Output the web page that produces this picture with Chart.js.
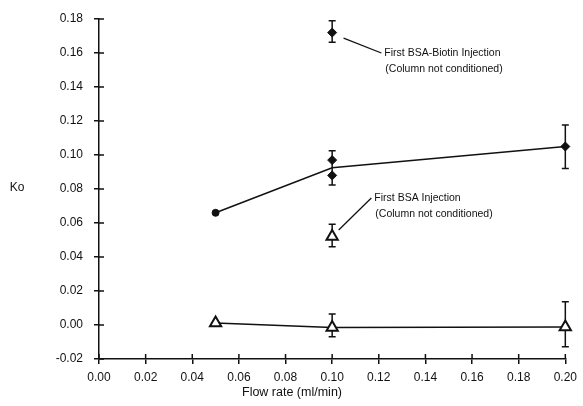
<!DOCTYPE html>
<html>
<head>
<meta charset="utf-8">
<script src="https://cdn.jsdelivr.net/npm/chart.js@4"></script>
<style>
  html, body { margin: 0; padding: 0; background: #fff; }
  #wrap { width: 583px; height: 406px; }
</style>
</head>
<body>
<div id="wrap"><canvas id="koChart"></canvas></div>
<script>
// flow rates (ml/min) used on the x axis
const flowRates = [0.05, 0.10, 0.20];

// BSA-Biotin (filled diamonds), line goes through mean at 0.10
const biotinKo = [0.066, 0.0925, 0.105];
const biotinRepX = [0.10, 0.10];
const biotinRepKo = [0.097, 0.088];
const biotinFirstX = [0.10];
const biotinFirstKo = [0.172];

// BSA (open triangles)
const bsaKo = [0.0012, -0.0014, -0.0012];
const bsaFirstX = [0.10];
const bsaFirstKo = [0.052];

// error bars (low / high)
const errX  = [0.10,   0.20,   0.10,   0.10,    0.20,    0.10];
const errLo = [0.0824, 0.092,  0.1663, -0.0069, -0.0128, 0.046];
const errHi = [0.1025, 0.1176, 0.179,  0.0065,  0.0137,  0.0592];

// tick range
const xMin = 0, xMax = 0.20, xStep = 0.02;
const yMin = -0.02, yMax = 0.18, yStep = 0.02;

const FONT = "'Liberation Sans', Arial, sans-serif";
const INK = '#111';

// annotation leader lines, in data units: [fromX, fromY, toX, toY]
const notes = [
    { line: [0.1049, 0.1688, 0.1211, 0.1600], text: ['First BSA-Biotin Injection', '(Column not conditioned)'] },
    { line: [0.1028, 0.0559, 0.1168, 0.0747], text: ['First BSA Injection', '(Column not conditioned)'] }
];

const pts = (xs, ys) => xs.map((x, i) => ({ x: x, y: ys[i] }));
const fmt = v => (Math.abs(v) < 1e-9 ? 0 : v).toFixed(2);

// error bars drawn under the markers
const errorBars = {
    id: 'errorBars',
    beforeDatasetsDraw(chart) {
        const { ctx, scales: { x, y } } = chart;
        ctx.save();
        ctx.strokeStyle = INK;
        ctx.lineWidth = 1.5;
        errX.forEach((v, i) => {
            const px = x.getPixelForValue(v);
            const lo = y.getPixelForValue(errLo[i]);
            const hi = y.getPixelForValue(errHi[i]);
            ctx.beginPath();
            ctx.moveTo(px, lo); ctx.lineTo(px, hi);
            ctx.moveTo(px - 3.5, hi); ctx.lineTo(px + 3.5, hi);
            ctx.moveTo(px - 3.5, lo); ctx.lineTo(px + 3.5, lo);
            ctx.stroke();
        });
        ctx.restore();
    }
};

// inner half of the ticks, axis titles and annotations
const decorations = {
    id: 'decorations',
    afterDraw(chart) {
        const { ctx, chartArea: a, scales: { x, y } } = chart;
        ctx.save();
        ctx.strokeStyle = INK;
        ctx.lineWidth = 1.5;
        ctx.beginPath();
        x.ticks.forEach(t => {
            const px = x.getPixelForValue(t.value);
            ctx.moveTo(px, a.bottom); ctx.lineTo(px, a.bottom - 5);
        });
        y.ticks.forEach(t => {
            const py = y.getPixelForValue(t.value);
            ctx.moveTo(a.left, py); ctx.lineTo(a.left + 5, py);
        });
        ctx.stroke();

        ctx.fillStyle = INK;
        ctx.textBaseline = 'middle';
        ctx.textAlign = 'center';
        ctx.font = '12px ' + FONT;
        ctx.fillText('Ko', 17, 188);
        ctx.font = '12.5px ' + FONT;
        ctx.fillText('Flow rate (ml/min)', 292, 393);

        ctx.textAlign = 'left';
        ctx.font = '10.5px ' + FONT;
        ctx.lineWidth = 1.3;
        notes.forEach(n => {
            const [x0, y0, x1, y1] = n.line;
            const ax = x.getPixelForValue(x0), ay = y.getPixelForValue(y0);
            const bx = x.getPixelForValue(x1), by = y.getPixelForValue(y1);
            ctx.beginPath();
            ctx.moveTo(ax, ay); ctx.lineTo(bx, by);
            ctx.stroke();
            ctx.fillText(n.text[0], bx + 3, by);
            ctx.fillText(n.text[1], bx + 4, by + 16);
        });
        ctx.restore();
    }
};

new Chart(document.getElementById('koChart'), {
    type: 'scatter',
    data: {
        datasets: [
            {
                data: pts(flowRates, biotinKo),
                showLine: true,
                clip: false,
                borderColor: INK,
                borderWidth: 1.5,
                backgroundColor: INK,
                pointStyle: ['circle', 'rectRot', 'rectRot'],
                pointRadius: [3.5, 0, 4.5],
                pointBorderWidth: 1
            },
            {
                data: pts(biotinRepX, biotinRepKo),
                clip: false,
                borderColor: INK,
                backgroundColor: INK,
                pointStyle: 'rectRot',
                pointRadius: 4.5,
                pointBorderWidth: 1
            },
            {
                data: pts(biotinFirstX, biotinFirstKo),
                clip: false,
                borderColor: INK,
                backgroundColor: INK,
                pointStyle: 'rectRot',
                pointRadius: 4.5,
                pointBorderWidth: 1
            },
            {
                data: pts(flowRates, bsaKo),
                showLine: true,
                clip: false,
                borderColor: INK,
                borderWidth: 1.5,
                backgroundColor: '#fff',
                pointStyle: 'triangle',
                pointRadius: 6.5,
                pointBorderWidth: 2
            },
            {
                data: pts(bsaFirstX, bsaFirstKo),
                clip: false,
                borderColor: INK,
                backgroundColor: '#fff',
                pointStyle: 'triangle',
                pointRadius: 6.5,
                pointBorderWidth: 2
            }
        ]
    },
    options: {
        responsive: true,
        maintainAspectRatio: false,
        animation: false,
        layout: { padding: { top: 19, right: 15, left: 0, bottom: 0 } },
        plugins: {
            legend: { display: false },
            tooltip: { enabled: false }
        },
        scales: {
            x: {
                type: 'linear',
                min: xMin, max: xMax,
                grid: { display: true, drawOnChartArea: false, drawTicks: true, tickLength: 5, color: INK, lineWidth: 1.5 },
                border: { color: INK, width: 1.5 },
                ticks: {
                    stepSize: xStep,
                    padding: 6,
                    color: INK,
                    font: { family: FONT, size: 12 },
                    maxRotation: 0,
                    callback: fmt
                },
                afterFit(scale) { scale.height = 47; }
            },
            y: {
                type: 'linear',
                min: yMin, max: yMax,
                grid: { display: true, drawOnChartArea: false, drawTicks: true, tickLength: 5, color: INK, lineWidth: 1.5 },
                border: { color: INK, width: 1.5 },
                ticks: {
                    stepSize: yStep,
                    padding: 11,
                    color: INK,
                    font: { family: FONT, size: 12 },
                    callback: fmt
                },
                afterFit(scale) { scale.width = 99; }
            }
        }
    },
    plugins: [errorBars, decorations]
});
</script>
</body>
</html>
